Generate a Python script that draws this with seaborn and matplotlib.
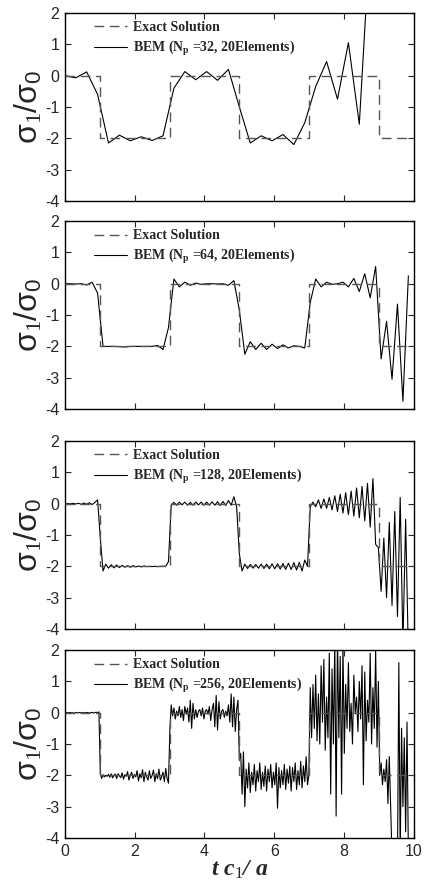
import matplotlib
matplotlib.use("Agg")
import matplotlib.pyplot as plt
import numpy as np
import seaborn as sns

# exact solution (square wave)
exact_t = [0, 1, 1, 3, 3, 5, 5, 7, 7, 9, 9, 10]
exact_y = [0, 0, -2, -2, 0, 0, -2, -2, 0, 0, -2, -2]

# BEM results, sampled at t = k * 10 / Np
bem_32 = [
    0.0, -0.07, 0.12, -0.6, -2.15, -1.9, -2.08, -1.95, -2.07, -1.92,
    -0.4, 0.13, -0.13, 0.13, -0.15, 0.2, -1.0, -2.15, -1.92, -2.08,
    -1.88, -2.2, -1.5, -0.35, 0.45, -0.75, 1.05, -1.55, 4.5,
]

bem_64 = [
    0.0, 0.0, -0.01, 0.0, -0.04, 0.05, -0.3, -2.0, -2.0, -2.0,
    -2.01, -2.02, -2.0, -2.0, -2.0, -2.0, -2.0, -1.97, -2.1, -1.4,
    0.15, -0.1, 0.05, -0.05, 0.02, -0.02, 0.0, 0.0, -0.01, 0.0,
    -0.05, 0.1, -0.85, -2.25, -1.85, -2.1, -1.9, -2.1, -1.93, -2.07,
    -1.95, -2.05, -1.98, -2.0, -2.05, -0.6, 0.15, -0.1, 0.05, -0.02,
    0.0, 0.05, -0.1, 0.17, -0.25, 0.32, -0.45, 0.55, -2.4, -1.2,
    -3.05, -0.65, -3.75, 0.25,
]

bem_128 = [
    0.0, 0.0, -0.01, 0.01, -0.01, 0.01, -0.02, 0.02, -0.02, 0.03,
    -0.03, 0.04, 0.12, -1.1, -2.15, -1.93, -2.06, -1.95, -2.05, -1.96,
    -2.04, -1.97, -2.03, -1.98, -2.03, -1.98, -2.02, -1.99, -2.02, -1.99,
    -2.01, -2.0, -2.01, -2.0, -2.01, -2.0, -2.0, -2.0, -1.85, -0.05,
    0.04, -0.05, 0.05, -0.04, 0.05, -0.05, 0.04, -0.05, 0.05, -0.04,
    0.05, -0.05, 0.05, -0.05, 0.06, -0.05, 0.06, -0.06, 0.07, -0.06,
    0.1, -0.05, 0.22, -0.1, -1.6, -2.15, -1.93, -2.07, -1.94, -2.06,
    -1.94, -2.06, -1.93, -2.07, -1.93, -2.08, -1.92, -2.08, -1.92, -2.09,
    -1.91, -2.1, -1.9, -2.1, -1.88, -2.12, -1.87, -2.15, -1.8, -2.0,
    -0.1, 0.05, -0.1, 0.12, -0.15, 0.15, -0.15, 0.2, -0.2, 0.25,
    -0.25, 0.3, -0.3, 0.35, -0.35, 0.4, -0.4, 0.5, -0.45, 0.55,
    -0.55, 0.65, -0.75, 0.8, -1.3, -1.4, -2.8, -1.1, -3.0, -0.6,
    -3.25, -0.25, -3.6, 0.2, -4.5, -0.5, -4.8, -4.5, -4.6,
]

bem_256 = [
    0.0, 0.01, -0.01, 0.0, 0.01, -0.01, 0.0, -0.02, 0.01, -0.01,
    0.0, 0.01, -0.01, 0.0, 0.0, -0.01, 0.01, 0.0, -0.01, 0.0,
    0.01, -0.01, 0.0, 0.02, -0.02, 0.03, -1.95, -2.1, -1.98, -2.05,
    -2.0, -2.03, -1.97, -2.06, -1.95, -2.08, -2.0, -1.96, -2.1, -1.95,
    -2.02, -2.07, -1.92, -2.12, -1.98, -2.03, -1.88, -2.15, -2.0, -1.9,
    -2.1, -1.97, -2.05, -1.85, -2.18, -1.95, -2.08, -1.82, -2.2, -1.9,
    -2.05, -2.15, -1.85, -2.1, -2.0, -1.83, -2.2, -1.95, -2.1, -1.8,
    -2.15, -2.05, -1.9, -2.2, -1.78, -2.1, -2.25, -0.6, 0.25, -0.1,
    0.15, -0.2, 0.05, -0.1, 0.2, -0.15, 0.1, -0.25, 0.2, -0.05,
    0.15, -0.3, 0.4, -0.5, 0.3, -0.2, 0.1, -0.15, 0.05, 0.1,
    -0.1, 0.15, -0.2, 0.05, 0.1, -0.05, 0.2, -0.25, 0.1, 0.3,
    -0.45, 0.55, -0.55, 0.35, -0.2, 0.05, 0.1, -0.15, 0.05, -0.1,
    0.25, -0.3, 0.6, -0.45, 0.5, -0.6, 0.1, 0.4, -1.5, -1.3,
    -2.6, -1.25, -3.0, -1.8, -2.4, -1.6, -2.55, -1.9, -2.3, -1.65,
    -2.5, -1.85, -2.2, -1.6, -2.45, -1.9, -2.35, -1.7, -2.5, -1.8,
    -2.2, -1.65, -2.4, -1.9, -2.3, -1.6, -3.05, -1.75, -2.4, -1.85,
    -2.3, -1.65, -2.45, -1.8, -2.25, -1.7, -2.5, -1.75, -2.2, -1.6,
    -2.45, -1.85, -2.3, -1.55, -2.4, -1.7, -2.2, -1.4, -2.3, -2.0,
    0.8, -0.8, 0.9, -0.5, 1.2, -0.9, 0.6, -1.0, 1.5, -0.3,
    1.7, -1.2, 0.5, -0.8, 1.9, -2.6, 1.4, -1.0, 2.3, -3.3,
    2.5, -0.8, 1.8, -2.6, 2.2, -1.3, 0.9, -0.5, 1.6, -0.6,
    0.3, -1.0, 1.2, 0.0, 0.5, -0.6, 1.0, -0.2, 1.5, -2.3,
    1.3, -0.9, 0.4, -0.3, 1.9, -1.0, 0.8, -0.5, 2.0, -1.1,
    1.0, -2.0, -1.6, -2.3, -1.8, -2.2, -1.5, -2.9, -1.4, -2.95,
    -4.6, -5.2, -4.8, -5.5, -4.9, 1.6, -4.6, -0.5, -3.0, -0.8,
    -3.8, -0.3, -4.5, -5.0, -4.7, -5.2, -4.8,
]

panels = [(32, bem_32), (64, bem_64), (128, bem_128), (256, bem_256)]
yticks = [-4, -3, -2, -1, 0, 1, 2]
xticks = [0, 2, 4, 6, 8, 10]

sns.set_style("ticks")
plt.rcParams.update({
    "font.family": ["Liberation Sans", "DejaVu Sans"],
    "axes.unicode_minus": False,
    "mathtext.fontset": "custom",
    "mathtext.rm": "Liberation Serif",
    "mathtext.sf": "Liberation Sans",
    "mathtext.bf": "Liberation Serif:bold",
    "mathtext.it": "Liberation Serif:italic",
})

fig = plt.figure(figsize=(4.24, 8.90), dpi=100)
bottoms = [0.7742, 0.5404, 0.2933, 0.0584]

for i, ((n_p, bem), b) in enumerate(zip(panels, bottoms)):
    ax = fig.add_axes([0.153, b, 0.823, 0.2112])
    t = np.linspace(0, 10, n_p + 1)[:len(bem)]
    sns.lineplot(x=exact_t, y=exact_y, ax=ax, estimator=None, sort=False,
                 color="#555555", lw=1.0, linestyle=(0, (7, 4)), zorder=3,
                 label="Exact Solution")
    sns.lineplot(x=t, y=bem, ax=ax, estimator=None, sort=False,
                 color="black", lw=0.8, zorder=2,
                 label=r"BEM (N$_{\mathbf{p}}$ =%d, 20Elements)" % n_p)
    ax.set_xlim(0, 10)
    ax.set_ylim(-4, 2)
    ax.set_yticks(yticks)
    ax.set_xticks(xticks)
    ax.tick_params(direction="in", length=4, width=0.8, top=True, right=True,
                   labelsize=11.5, pad=4)
    for s in ax.spines.values():
        s.set_linewidth(1.0)
        s.set_color("black")
    if i < 3:
        ax.set_xticklabels([])
        ax.set_xlabel("")
    else:
        ax.set_xlabel(r"t c$_{\mathrm{1}}$/ a", fontsize=17, family="Liberation Serif",
                      fontweight="bold", fontstyle="italic", labelpad=0)
    ax.set_ylabel(r"$\mathsf{\sigma}_{\mathrm{1}}\mathsf{/\sigma}_{\mathsf{0}}$",
                  fontsize=23, labelpad=0)
    ax.legend(loc="upper left", bbox_to_anchor=(0.06, 1.0), frameon=False,
              prop={"family": "Liberation Serif", "weight": "bold", "size": 10},
              handlelength=2.4, handletextpad=0.4, labelspacing=0.35,
              borderaxespad=0.2)

fig.savefig("out.png", dpi=100)
